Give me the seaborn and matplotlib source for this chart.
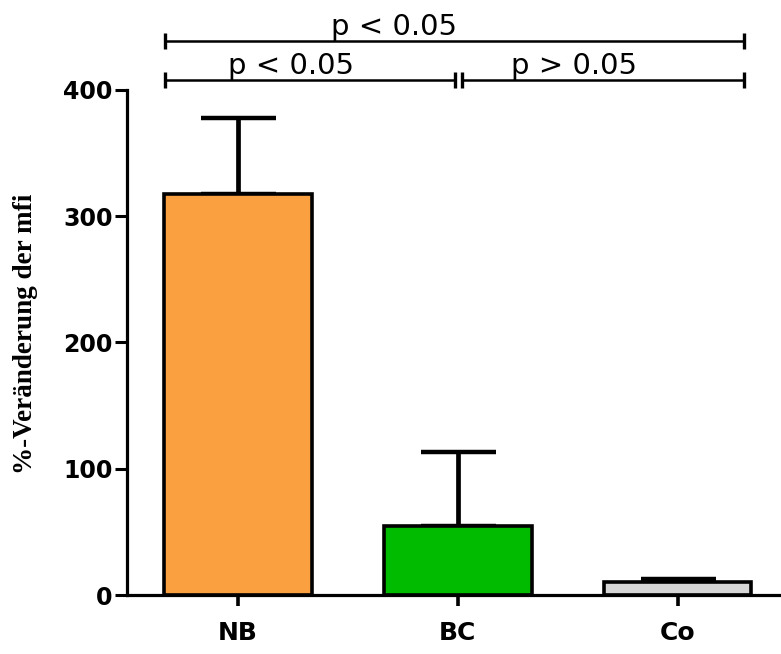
import matplotlib
matplotlib.use("Agg")
import matplotlib.pyplot as plt
import seaborn as sns
import pandas as pd

# Group means and standard deviations (% change of mfi)
groups = ["NB", "BC", "Co"]
means = [318, 55, 10]
errors = [60, 58, 2.5]
bar_colors = ["#FBA040", "#00BB00", "#D6D6D6"]
y_ticks = [0, 100, 200, 300, 400]

# Significance brackets: (start, end, height, label, label_x)
brackets = [
    (-0.33, 2.30, 439, "p < 0.05", 0.71),
    (-0.33, 0.985, 408, "p < 0.05", 0.24),
    (1.02, 2.30, 408, "p > 0.05", 1.53),
]

sns.set_theme(style="white")
plt.rcParams["font.family"] = ["DejaVu Sans"]
plt.rcParams["text.color"] = "black"
plt.rcParams["axes.labelcolor"] = "black"

df = pd.DataFrame({"group": groups, "value": means})

fig = plt.figure(figsize=(7.81, 6.54), dpi=100)
ax = fig.add_axes([0.1626, 0.0902, 0.8348, 0.7722])

sns.barplot(data=df, x="group", y="value", hue="group", palette=bar_colors,
            saturation=1, legend=False, width=0.67, edgecolor="black",
            linewidth=2.6, errorbar=None, ax=ax, zorder=2)

# upward-only error bars
ax.errorbar(range(len(groups)), means, yerr=[[0] * len(errors), errors],
            fmt="none", ecolor="black", elinewidth=3.4, capsize=27,
            capthick=3.2, zorder=1)

ax.set_xlim(-0.505, 2.46)
ax.set_ylim(0, 400)
ax.set_yticks(y_ticks)
ax.set_yticklabels([str(t) for t in y_ticks], fontsize=17, fontweight="bold")
ax.set_xticks(range(len(groups)))
ax.set_xticklabels(groups, fontsize=18, fontweight="bold")
ax.set_xlabel("")
ax.set_ylabel("%-Veränderung der mfi", family=["Liberation Serif"],
              fontsize=19.5, fontweight="bold", color="black")
ax.yaxis.set_label_coords(-0.136, 0.518)

for side in ["top", "right"]:
    ax.spines[side].set_visible(False)
for side in ["left", "bottom"]:
    ax.spines[side].set_linewidth(2.3)
    ax.spines[side].set_color("black")

ax.tick_params(axis="y", direction="out", length=9, width=2.2, pad=1.5,
               colors="black", labelcolor="black", left=True)
ax.tick_params(axis="x", direction="out", length=8, width=2.6, pad=11,
               colors="black", labelcolor="black", bottom=True)

for x0, x1, h, label, lx in brackets:
    ax.plot([x0, x1], [h, h], color="black", lw=1.8, clip_on=False,
            solid_capstyle="butt")
    for xe in (x0, x1):
        ax.plot([xe, xe], [h - 6.5, h + 6.5], color="black", lw=2.4,
                clip_on=False, solid_capstyle="butt")
    ax.text(lx, h + 4.5, label, ha="center", va="baseline", fontsize=21,
            color="black", clip_on=False)

fig.savefig("out.png", dpi=100, facecolor="white")
